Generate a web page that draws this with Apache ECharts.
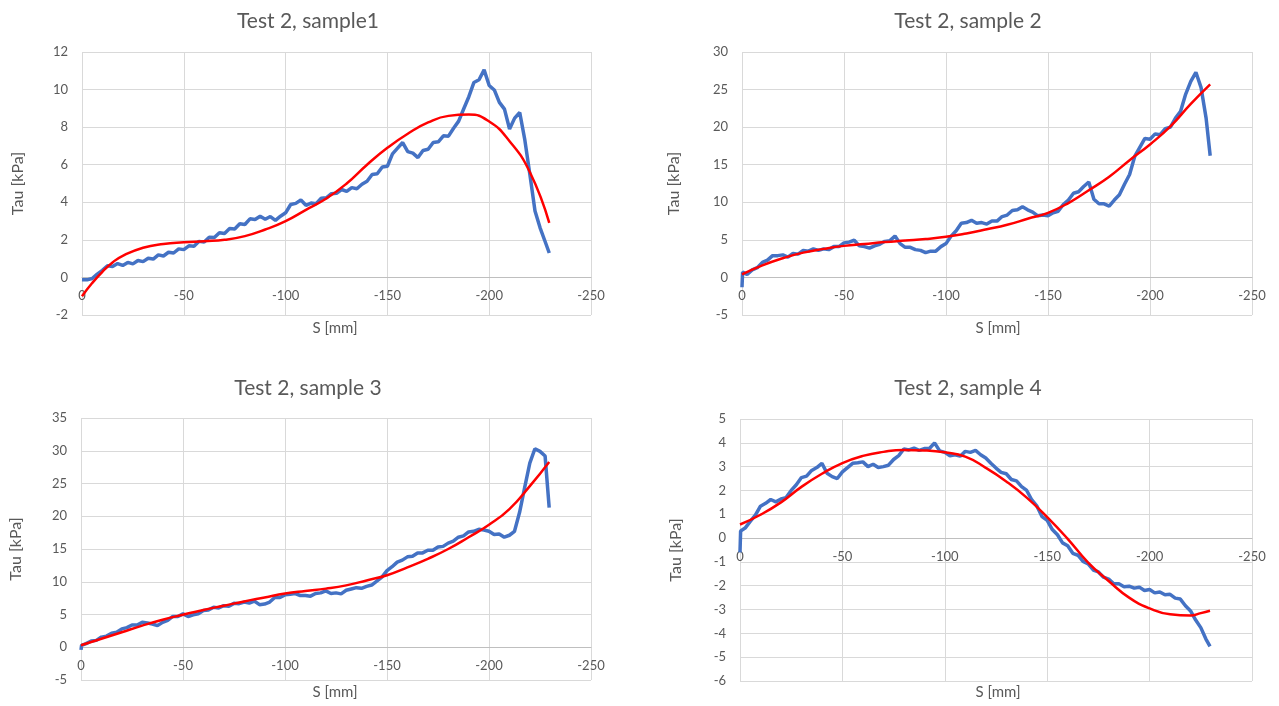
<!DOCTYPE html>
<html>
<head>
<meta charset="utf-8">
<title>Test 2 – shear stress vs displacement</title>
<script src="https://cdn.jsdelivr.net/npm/echarts@6/dist/echarts.min.js"></script>
<style>
  html, body { margin: 0; padding: 0; background: #ffffff; }
  #chart { width: 1279px; height: 706px; }
</style>
</head>
<body>
<div id="chart"></div>
<script>
// Displacement positions of the measured records [mm]
const S_MEASURED = [
  0, -0.3, -2.5, -5, -7.5, -10, -12.5, -15, -17.5, -20,
  -22.5, -25, -27.5, -30, -32.5, -35, -37.5, -40, -42.5, -45,
  -47.5, -50, -52.5, -55, -57.5, -60, -62.5, -65, -67.5, -70,
  -72.5, -75, -77.5, -80, -82.5, -85, -87.5, -90, -92.5, -95,
  -97.5, -100, -102.5, -105, -107.5, -110, -112.5, -115, -117.5, -120,
  -122.5, -125, -127.5, -130, -132.5, -135, -137.5, -140, -142.5, -145,
  -147.5, -150, -152.5, -155, -157.5, -160, -162.5, -165, -167.5, -170,
  -172.5, -175, -177.5, -180, -182.5, -185, -187.5, -190, -192.5, -195,
  -197.5, -200, -202.5, -205, -207.5, -210, -212.5, -215, -217.5, -220,
  -222.5, -225, -227.5, -229.5
];

// Measured shear stress Tau [kPa]
const TAU_SAMPLE1 = [
  -0.12, -0.08, -0.13, -0.06, 0.18, 0.38, 0.62, 0.58, 0.74, 0.64,
  0.80, 0.72, 0.90, 0.84, 1.02, 0.98, 1.20, 1.14, 1.34, 1.30,
  1.52, 1.48, 1.68, 1.66, 1.92, 1.88, 2.14, 2.12, 2.38, 2.34,
  2.60, 2.58, 2.86, 2.82, 3.12, 3.08, 3.26, 3.10, 3.24, 3.04,
  3.26, 3.44, 3.88, 3.94, 4.12, 3.84, 3.96, 3.92, 4.22, 4.24,
  4.46, 4.48, 4.68, 4.58, 4.78, 4.72, 4.96, 5.12, 5.48, 5.52,
  5.88, 5.92, 6.58, 6.88, 7.18, 6.70, 6.62, 6.38, 6.76, 6.82,
  7.18, 7.22, 7.54, 7.52, 7.94, 8.32, 8.98, 9.62, 10.38, 10.52,
  11.05, 10.22, 9.98, 9.32, 8.96, 7.90, 8.48, 8.78, 7.32, 5.46,
  3.54, 2.64, 1.90, 1.30
];
const TAU_SAMPLE2 = [
  -1.3, 0.7, 0.4, 1.0, 1.3, 2.0, 2.3, 2.9, 2.9, 3.0,
  2.7, 3.2, 3.1, 3.6, 3.5, 3.8, 3.6, 3.8, 3.7, 4.1,
  4.1, 4.6, 4.7, 4.95, 4.2, 4.1, 3.9, 4.2, 4.4, 4.8,
  4.9, 5.5, 4.5, 4.0, 4.0, 3.7, 3.6, 3.3, 3.5, 3.5,
  4.1, 4.5, 5.5, 6.2, 7.2, 7.3, 7.6, 7.2, 7.3, 7.1,
  7.5, 7.5, 8.1, 8.3, 8.9, 9.0, 9.4, 9.0, 8.7, 8.2,
  8.3, 8.2, 8.6, 8.8, 9.7, 10.3, 11.2, 11.4, 12.1, 12.7,
  10.4, 9.8, 9.8, 9.5, 10.3, 11.0, 12.4, 13.7, 16.1, 17.3,
  18.5, 18.4, 19.1, 19.0, 19.8, 20.0, 21.2, 22.1, 24.4, 26.1,
  27.3, 25.3, 21.2, 16.2
];
const TAU_SAMPLE3 = [
  -0.4, 0.3, 0.55, 0.95, 1.05, 1.55, 1.7, 2.15, 2.3, 2.8,
  3.0, 3.4, 3.4, 3.8, 3.7, 3.55, 3.3, 3.8, 4.1, 4.7,
  4.7, 5.1, 4.7, 4.95, 5.1, 5.6, 5.7, 6.1, 6.0, 6.35,
  6.25, 6.7, 6.65, 6.9, 6.75, 7.05, 6.5, 6.6, 6.9, 7.6,
  7.6, 8.0, 8.1, 8.2, 7.9, 7.9, 7.8, 8.2, 8.3, 8.6,
  8.2, 8.3, 8.15, 8.7, 8.9, 9.1, 9.0, 9.3, 9.5, 10.1,
  10.7, 11.7, 12.3, 13.0, 13.3, 13.8, 13.9, 14.4, 14.4, 14.8,
  14.8, 15.3, 15.4, 15.9, 16.2, 16.8, 17.0, 17.6, 17.7, 18.0,
  17.9, 17.7, 17.2, 17.3, 16.8, 17.1, 17.7, 20.6, 24.4, 28.1,
  30.3, 29.9, 29.2, 21.3
];
const TAU_SAMPLE4 = [
  -0.6, 0.3, 0.42, 0.7, 0.96, 1.34, 1.46, 1.62, 1.52, 1.64,
  1.7, 2.0, 2.24, 2.54, 2.6, 2.84, 2.96, 3.14, 2.72, 2.58,
  2.5, 2.78, 2.96, 3.14, 3.16, 3.2, 3.0, 3.1, 2.96, 3.0,
  3.06, 3.3, 3.46, 3.74, 3.7, 3.78, 3.68, 3.76, 3.76, 4.0,
  3.66, 3.6, 3.46, 3.5, 3.44, 3.64, 3.6, 3.68, 3.5, 3.36,
  3.14, 2.94, 2.76, 2.7, 2.46, 2.4, 2.16, 2.0, 1.6, 1.34,
  0.9, 0.74, 0.36, 0.14, -0.2, -0.32, -0.64, -0.72, -0.98, -1.08,
  -1.34, -1.42, -1.64, -1.72, -1.92, -1.92, -2.04, -2.02, -2.1, -2.06,
  -2.2, -2.16, -2.3, -2.26, -2.38, -2.36, -2.52, -2.56, -2.84, -3.06,
  -3.44, -3.76, -4.24, -4.55
];

// Fitted trend curves: positions [mm] and Tau [kPa]
const S_FIT1 = [0, -5, -10, -15, -20, -30, -40, -50, -60, -70, -80, -90, -100,
  -110, -120, -130, -140, -150, -160, -170, -180, -190, -200, -210, -220, -229.5];
const FIT_SAMPLE1 = [-1.0, -0.3, 0.3, 0.8, 1.15, 1.58, 1.78, 1.87, 1.93, 2.0, 2.2, 2.55, 3.0,
  3.6, 4.2, 5.0, 6.0, 6.9, 7.65, 8.25, 8.6, 8.67, 8.3, 7.25, 5.6, 2.9];

const S_FIT2 = [0, -10, -20, -30, -40, -50, -60, -70, -80, -90, -100, -110,
  -120, -130, -140, -150, -160, -170, -180, -190, -200, -210, -220, -229.5];
const FIT_SAMPLE2 = [0.4, 1.6, 2.55, 3.3, 3.8, 4.2, 4.45, 4.7, 4.9, 5.1, 5.4, 5.85,
  6.4, 7.0, 7.8, 8.6, 9.9, 11.6, 13.4, 15.6, 17.7, 20.1, 23.1, 25.7];

const S_FIT3 = [0, -10, -20, -30, -40, -50, -60, -70, -80, -90, -100, -110,
  -120, -130, -140, -150, -160, -170, -180, -190, -200, -210, -220, -229.5];
const FIT_SAMPLE3 = [0.3, 1.3, 2.3, 3.3, 4.2, 4.97, 5.7, 6.35, 7.0, 7.6, 8.2, 8.6,
  8.95, 9.45, 10.2, 11.0, 12.2, 13.5, 15.0, 16.8, 18.7, 21.1, 24.6, 28.3];

const S_FIT4 = [0, -10, -20, -30, -40, -50, -60, -70, -80, -90, -100, -110,
  -120, -130, -140, -150, -160, -170, -180, -190, -200, -210, -220, -225, -229.5];
const FIT_SAMPLE4 = [0.57, 0.98, 1.5, 2.15, 2.7, 3.15, 3.45, 3.62, 3.7, 3.68, 3.6, 3.42,
  2.95, 2.38, 1.7, 0.88, -0.03, -1.03, -1.8, -2.5, -2.95, -3.2, -3.25, -3.15, -3.05];

// Panel titles and axis ranges
const PANEL_TITLES = ['Test 2, sample1', 'Test 2, sample 2', 'Test 2, sample 3', 'Test 2, sample 4'];
const X_TICKS = { min: -250, max: 0, interval: 50 };
const Y_TICKS = [
  { min: -2, max: 12, interval: 2 },
  { min: -5, max: 30, interval: 5 },
  { min: -5, max: 35, interval: 5 },
  { min: -6, max: 5, interval: 1 }
];
const X_NAME = 'S [mm]';
const Y_NAME = 'Tau [kPa]';

const pairs = (xs, ys) => xs.map((x, i) => [x, ys[i]]);
const measured = [TAU_SAMPLE1, TAU_SAMPLE2, TAU_SAMPLE3, TAU_SAMPLE4];
const fits = [[S_FIT1, FIT_SAMPLE1], [S_FIT2, FIT_SAMPLE2], [S_FIT3, FIT_SAMPLE3], [S_FIT4, FIT_SAMPLE4]];

// Layout of the four plot areas
const grids = [
  { left: 82, top: 52, width: 509, height: 263 },
  { left: 742, top: 52, width: 510, height: 263 },
  { left: 81, top: 418, width: 510, height: 262 },
  { left: 740, top: 419, width: 512, height: 262 }
];
const nameGaps = [56, 60, 57, 56];
const titlePos = [[308, 21], [968, 21], [308, 388], [968, 388]];
const xNamePos = [[335, 328], [998, 328], [335, 692], [998, 692]];

const FONT = 'Lato, "Open Sans", sans-serif';
const TEXT = '#595959';
const GRIDLINE = '#d9d9d9';

// The S axis crosses the Tau axis at zero: shift it up from the plot bottom
const zeroOffset = i => -grids[i].height * (0 - Y_TICKS[i].min) / (Y_TICKS[i].max - Y_TICKS[i].min);

const option = {
  animation: false,
  backgroundColor: '#ffffff',
  grid: grids.map(g => Object.assign({ containLabel: false }, g)),
  xAxis: grids.map((g, i) => ({
    type: 'value',
    gridIndex: i,
    inverse: true,
    position: 'bottom',
    offset: zeroOffset(i),
    min: X_TICKS.min,
    max: X_TICKS.max,
    interval: X_TICKS.interval,
    axisLine: { show: true, onZero: false, lineStyle: { color: '#bfbfbf', width: 1 } },
    axisTick: { show: false },
    axisLabel: { color: TEXT, fontSize: 13, fontFamily: FONT, margin: 12 },
    splitLine: { show: true, lineStyle: { color: GRIDLINE, width: 1 } }
  })),
  yAxis: grids.map((g, i) => ({
    type: 'value',
    gridIndex: i,
    min: Y_TICKS[i].min,
    max: Y_TICKS[i].max,
    interval: Y_TICKS[i].interval,
    name: Y_NAME,
    nameLocation: 'middle',
    nameRotate: 90,
    nameGap: nameGaps[i],
    nameTextStyle: { color: TEXT, fontSize: 16, fontFamily: FONT },
    axisLine: { show: false },
    axisTick: { show: false },
    axisLabel: { color: TEXT, fontSize: 13, fontFamily: FONT, margin: 14 },
    splitLine: { show: true, lineStyle: { color: GRIDLINE, width: 1 } }
  })),
  series: [],
  graphic: []
};

measured.forEach((tau, i) => {
  option.series.push({
    type: 'line',
    xAxisIndex: i,
    yAxisIndex: i,
    data: pairs(S_MEASURED, tau),
    symbol: 'none',
    lineStyle: { color: '#4472C4', width: 3.5 },
    itemStyle: { color: '#4472C4' },
    z: 2
  });
  option.series.push({
    type: 'line',
    xAxisIndex: i,
    yAxisIndex: i,
    data: pairs(fits[i][0], fits[i][1]),
    symbol: 'none',
    smooth: true,
    lineStyle: { color: '#ff0000', width: 2.5 },
    itemStyle: { color: '#ff0000' },
    z: 3
  });
  option.graphic.push({
    type: 'text',
    x: titlePos[i][0],
    y: titlePos[i][1],
    style: {
      text: PANEL_TITLES[i],
      fill: TEXT,
      font: '21px ' + FONT,
      align: 'center',
      verticalAlign: 'middle'
    }
  });
  option.graphic.push({
    type: 'text',
    x: xNamePos[i][0],
    y: xNamePos[i][1],
    style: {
      text: X_NAME,
      fill: TEXT,
      font: '15px ' + FONT,
      align: 'center',
      verticalAlign: 'middle'
    }
  });
});

const chart = echarts.init(document.getElementById('chart'), null, { renderer: 'canvas' });
chart.setOption(option);
</script>
</body>
</html>
